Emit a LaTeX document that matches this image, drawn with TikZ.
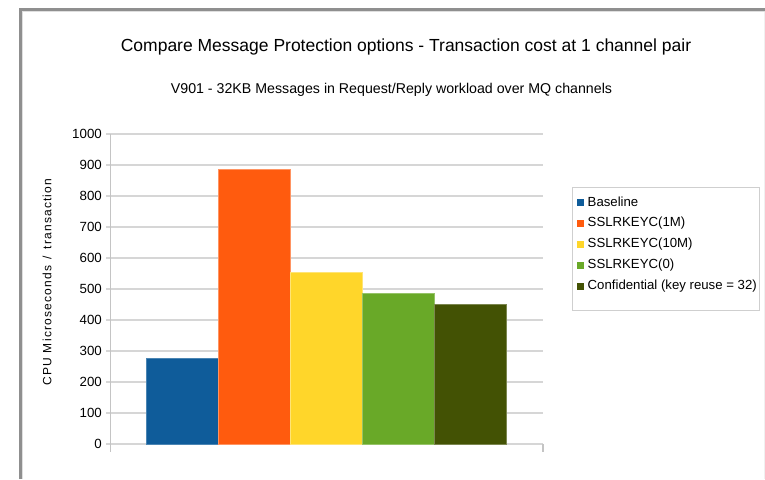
\documentclass[tikz,border=0pt]{standalone}
\usepackage{fontspec}
\setmainfont{Liberation Sans}
\newfontfamily\axisfont[LetterSpace=10]{Liberation Sans}
\definecolor{frameGray}{HTML}{8F8F8F}
\definecolor{gridGray}{HTML}{D6D6D6}
\definecolor{axisGray}{HTML}{C4C4C4}
\definecolor{legendGray}{HTML}{CFCFCF}
\definecolor{cBase}{HTML}{0F5C9A}
\definecolor{cOneM}{HTML}{FF5B0E}
\definecolor{cTenM}{HTML}{FFD62A}
\definecolor{cZero}{HTML}{69A928}
\definecolor{cConf}{HTML}{435204}
\tikzset{
  gridline/.style={draw=gridGray, line width=1.3pt},
  axisline/.style={draw=axisGray, line width=1.2pt},
  ticklabel/.style={anchor=east, inner sep=0pt, font=\fontsize{13.3}{13.3}\selectfont},
  bar/.style={line width=0.7pt},
  legendmark/.style={minimum size=7pt, inner sep=0pt},
  legendtext/.style={anchor=west, inner sep=0pt, font=\fontsize{13.2}{13.2}\selectfont},
}
\begin{document}
\begin{tikzpicture}[x=1pt,y=-1pt]
  % canvas
  \useasboundingbox (0,0) rectangle (765,479);
  \fill[white] (0,0) rectangle (765,479);
  % window frame
  \draw[frameGray, line width=3pt] (20.5,479) -- (20.5,9.5) -- (765,9.5);
  \draw[gray!25, line width=1pt] (22.5,479) -- (22.5,11.5) -- (765,11.5);
  \draw[gray!12, line width=1pt] (764,12) -- (764,479);

  % titles
  \node[font=\fontsize{17.5}{17.5}\selectfont] (title) at (406,47)
    {Compare Message Protection options - Transaction cost at 1 channel pair};
  \node[font=\fontsize{14.2}{14.2}\selectfont] (subtitle) at (391.5,90)
    {V901 - 32KB Messages in Request/Reply workload over MQ channels};

  % grid and value axis
  \foreach \v in {0,100,...,1000} {
    \draw[gridline] (106,{444-0.31*\v}) -- (543,{444-0.31*\v});
    \node[ticklabel] at (102,{444-0.31*\v}) {\v};
  }
  \draw[axisline] (110.5,134) -- (110.5,452);
  \draw[axisline] (543,444) -- (543,452);

  % y axis title
  \node[rotate=90, font=\axisfont\fontsize{12}{12}\selectfont] (ylabel) at (47,282)
    {CPU Microseconds\, / \,transaction};

  % bars
  \filldraw[bar, fill=cBase, draw=cBase!75!white] (146,444) rectangle (218.3,{444-0.31*276});
  \filldraw[bar, fill=cOneM, draw=cOneM!65!white] (218.3,444) rectangle (290.3,{444-0.31*886});
  \filldraw[bar, fill=cTenM, draw=cTenM!65!white] (290.3,444) rectangle (362.3,{444-0.31*555});
  \filldraw[bar, fill=cZero, draw=cZero!70!white] (362.3,444) rectangle (434.7,{444-0.31*486});
  \filldraw[bar, fill=cConf, draw=cConf!70!white] (434.7,444) rectangle (506.7,{444-0.31*452});

  % legend
  \draw[legendGray, line width=0.9pt] (572,187) rectangle (759,310);
  \node[legendmark, fill=cBase] (mBase) at (580.5,202) {};
  \node[legendtext] (tBase) at (587.5,202) {Baseline};
  \node[legendmark, fill=cOneM] (mOneM) at (580.5,223) {};
  \node[legendtext] (tOneM) at (587.5,223) {SSLRKEYC(1M)};
  \node[legendmark, fill=cTenM] (mTenM) at (580.5,244.5) {};
  \node[legendtext] (tTenM) at (587.5,244.5) {SSLRKEYC(10M)};
  \node[legendmark, fill=cZero] (mZero) at (580.5,265.5) {};
  \node[legendtext] (tZero) at (587.5,265.5) {SSLRKEYC(0)};
  \node[legendmark, fill=cConf] (mConf) at (580.5,286.5) {};
  \node[legendtext] (tConf) at (587.5,286.5) {Confidential (key reuse = 32)};
\end{tikzpicture}
\end{document}
